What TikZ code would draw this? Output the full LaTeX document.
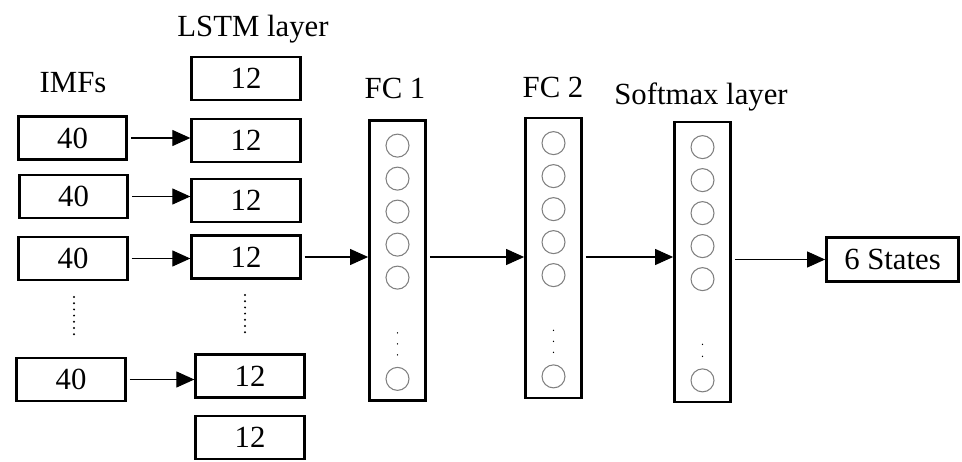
\documentclass[tikz,border=0pt]{standalone}
\usepackage{fontspec}
\setmainfont{Liberation Serif}
\usetikzlibrary{%
  arrows.meta,%
  calc%
}
\tikzset{>={Triangle[length=3.6mm,width=3.2mm]}}
\tikzset{
  box/.style={draw,line width=1.6pt,inner sep=0pt,minimum width=2.17cm,minimum height=0.86cm},
  layer/.style={draw,line width=1.6pt,inner sep=0pt,minimum width=1.12cm,minimum height=5.6cm},
  neuron/.style={circle,draw=gray,line width=0.6pt,inner sep=0pt,minimum size=0.46cm},
  link/.style={->,line width=0.6pt,shorten <=0.06cm}
}
\newcommand\diagfont{\fontsize{17.5pt}{21pt}\selectfont}

\begin{document}
\begin{tikzpicture}[x=0.02cm,y=-0.02cm,font=\diagfont]
    \useasboundingbox (0,0) rectangle (962,462);
    \node[anchor=base] (imflabel) at (73,93) {IMFs};
    \node[anchor=base] (lstmlabel) at (253,37) {LSTM layer};
    \node[anchor=base] (fc1label) at (395,99) {FC 1};
    \node[anchor=base] (fc2label) at (553,98) {FC 2};
    \node[anchor=base] (softlabel) at (701,105) {Softmax layer};
    \node[box] (imf1) at (72.5,138) {40};
    \node[box] (imf2) at (73.5,196.5) {40};
    \node[box] (imf3) at (73,258.5) {40};
    \node[box] (imf4) at (71,379.5) {40};
    \node[box] (lstm0) at (246,78.5) {12};
    \node[box] (lstm1) at (246,140.5) {12};
    \node[box] (lstm2) at (246,200.5) {12};
    \node[box] (lstm3) at (246,257) {12};
    \node[box] (lstm4) at (250,376) {12};
    \node[box] (lstm5) at (250,437.5) {12};
    \foreach \k in {0,...,6} {
      \fill (74,297+6.2*\k) circle (0.022cm);
      \fill (245,295+6.2*\k) circle (0.022cm);
    }
    \node[layer] (fc1) at (397.5,260.5) {};
    \node[layer] (fc2) at (553.5,258) {};
    \node[layer] (soft) at (702.5,262) {};
    \node[box,minimum width=2.64cm,minimum height=0.88cm] (out) at (892.5,259.5) {6 States};
    \foreach \l in {fc1,fc2,soft} {
      \foreach \k in {1,...,5}
        \node[neuron] (\l-n\k) at ($(\l.north)+(0,-6.5+33*\k)$) {};
      \node[neuron] (\l-nlast) at ($(\l.south)+(0,-23)$) {};
    }
    \foreach \l/\d in {fc1/-69,fc1/-58,fc1/-47,fc2/-69,fc2/-58,fc2/-47,soft/-59,soft/-47}
      \fill ($(\l.south)+(0,\d)$) circle (0.014cm);
    \draw[link] (imf1.east) -- (imf1.east -| lstm1.west);
    \draw[link] (imf2.east) -- (imf2.east -| lstm2.west);
    \draw[link] (imf3.east) -- (imf3.east -| lstm3.west);
    \draw[link] (imf4.east) -- (imf4.east -| lstm4.west);
    \draw[link] (lstm3.east) -- (lstm3.east -| fc1.west);
    \draw[link] (lstm3.east -| fc1.east) -- (lstm3.east -| fc2.west);
    \draw[link] (lstm3.east -| fc2.east) -- (lstm3.east -| soft.west);
    \draw[link] (soft.east |- out.west) -- (out.west);
\end{tikzpicture}
\end{document}
